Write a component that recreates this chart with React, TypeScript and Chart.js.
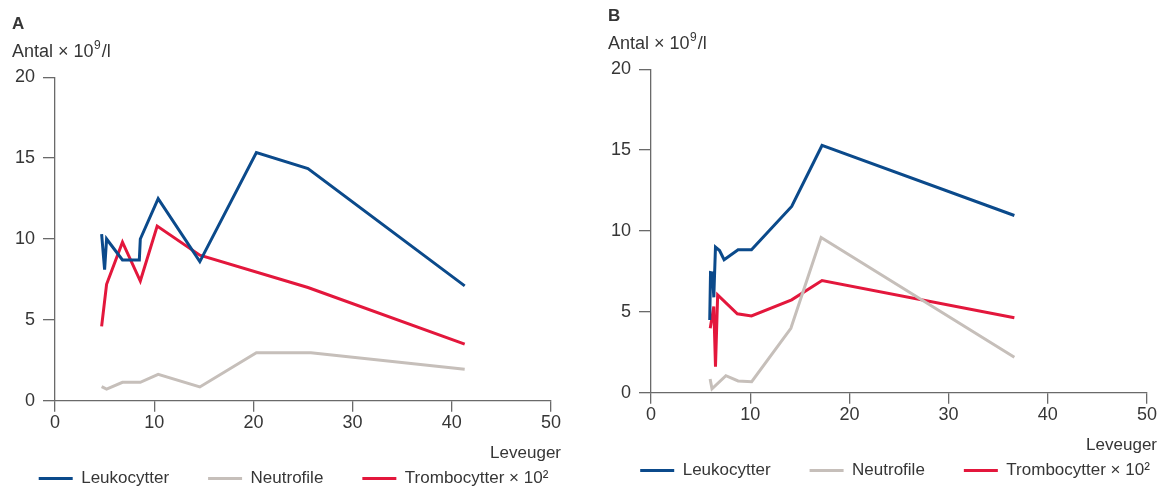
import React, { useEffect, useRef } from 'react';
import { Chart, registerables } from 'chart.js';

Chart.register(...registerables);

// ---- labels / ticks ----
const SERIES_LABELS = ['Leukocytter', 'Neutrofile', 'Trombocytter × 10²'];
const X_TICKS = [0, 10, 20, 30, 40, 50];
const Y_TICKS = [0, 5, 10, 15, 20];
const X_TITLE = 'Leveuger';
const Y_TITLE_BASE = 'Antal × 10';
const Y_TITLE_SUP = '9';
const Y_TITLE_TAIL = '/l';

// ---- Panel A ----
const aLeukoWeeks = [4.7, 5.0, 5.2, 6.8, 8.5, 8.6, 10.4, 14.6, 20.3, 25.5, 41.3];
const aLeukoValues = [10.3, 8.1, 10.0, 8.7, 8.7, 10.0, 12.5, 8.6, 15.35, 14.35, 7.1];
const aNeutroWeeks = [4.7, 5.2, 6.8, 8.6, 10.4, 14.6, 20.3, 25.8, 41.3];
const aNeutroValues = [0.87, 0.72, 1.14, 1.14, 1.63, 0.85, 2.97, 2.97, 1.94];
const aTromboWeeks = [4.7, 5.2, 6.8, 8.6, 10.3, 14.6, 25.5, 41.3];
const aTromboValues = [4.6, 7.2, 9.8, 7.4, 10.8, 9.0, 7.0, 3.5];

// ---- Panel B ----
const bLeukoWeeks = [5.92, 6.0, 6.2, 6.33, 6.5, 6.91, 7.37, 8.78, 10.13, 14.18, 17.24, 36.63];
const bLeukoValues = [4.5, 7.43, 7.4, 5.9, 9.0, 8.79, 8.22, 8.84, 8.84, 11.52, 15.29, 10.96];
const bNeutroWeeks = [5.96, 6.15, 7.55, 8.78, 10.15, 14.1, 17.15, 36.63];
const bNeutroValues = [0.85, 0.24, 1.05, 0.73, 0.68, 3.98, 9.6, 2.19];
const bTromboWeeks = [5.97, 6.33, 6.5, 6.72, 8.7, 10.13, 14.18, 17.24, 36.63];
const bTromboValues = [3.99, 5.33, 1.61, 6.05, 4.88, 4.75, 5.74, 6.94, 4.64];

const BLUE = '#0b4a8b';
const GREY = '#c6bfba';
const RED = '#e3173c';
const AXIS = '#6a6a6a';
const TEXT = '#363636';
const FONT = "'Liberation Sans', Arial, sans-serif";

const CANVAS_H = 497;
const PLOT_TOP = 77.3;
const PLOT_BOTTOM = 400.7;

const zip = (xs: number[], ys: number[]) => xs.map((x, i) => ({ x, y: ys[i] }));

const panelText = {
  id: 'panelText',
  afterDraw(chart: any, _args: any, opts: any) {
    const { ctx } = chart;
    const ox = opts.offset;
    ctx.save();
    ctx.fillStyle = TEXT;
    ctx.textBaseline = 'alphabetic';
    ctx.textAlign = 'left';
    ctx.font = `bold 17px ${FONT}`;
    ctx.fillText(opts.letter, ox + 12, 28.5);
    // y axis title with a real superscript
    ctx.font = `18px ${FONT}`;
    let x = ox + 12;
    ctx.fillText(Y_TITLE_BASE, x, 56.5);
    x += ctx.measureText(Y_TITLE_BASE).width + 0.5;
    ctx.font = `12px ${FONT}`;
    ctx.fillText(Y_TITLE_SUP, x, 49);
    x += ctx.measureText(Y_TITLE_SUP).width + 1;
    ctx.font = `18px ${FONT}`;
    ctx.fillText(Y_TITLE_TAIL, x, 56.5);
    // x axis title
    ctx.font = `17px ${FONT}`;
    ctx.textAlign = 'right';
    ctx.fillText(X_TITLE, chart.chartArea.right + 10, 458);
    ctx.restore();
  },
};

function makeConfig(
  letter: string,
  offset: number,
  rightGap: number,
  legendPad: number,
  series: { x: number[]; y: number[] }[]
): any {
  const colors = [BLUE, GREY, RED];
  const xHeight = CANVAS_H - (27 + legendPad) - PLOT_BOTTOM;
  return {
    type: 'line',
    data: {
      datasets: series.map((s, i) => ({
        label: SERIES_LABELS[i],
        data: zip(s.x, s.y),
        borderColor: colors[i],
        backgroundColor: colors[i],
        borderWidth: 3,
        pointRadius: 0,
        pointHoverRadius: 0,
        tension: 0,
        fill: false,
        borderJoinStyle: 'miter',
        yAxisID: 'y',
      })),
    },
    options: {
      responsive: false,
      animation: false,
      events: [],
      layout: { padding: { left: 0, right: 0, top: PLOT_TOP, bottom: 0 } },
      scales: {
        x: {
          type: 'linear',
          min: 0,
          max: 50,
          afterBuildTicks: (s: any) => {
            s.ticks = X_TICKS.map((v) => ({ value: v }));
          },
          afterFit: (s: any) => {
            s.height = xHeight;
          },
          ticks: { color: TEXT, font: { family: FONT, size: 18 }, padding: 1, maxRotation: 0, autoSkip: false },
          grid: { drawOnChartArea: false, drawTicks: true, tickLength: 11, color: AXIS, lineWidth: 1.3 },
          border: { display: true, color: AXIS, width: 1.3 },
        },
        y: {
          type: 'linear',
          position: 'left',
          min: 0,
          max: 20,
          afterBuildTicks: (s: any) => {
            s.ticks = Y_TICKS.map((v) => ({ value: v }));
          },
          afterFit: (s: any) => {
            s.width = 55 + offset;
          },
          ticks: { color: TEXT, font: { family: FONT, size: 18 }, padding: 8 },
          grid: { drawOnChartArea: false, drawTicks: true, tickLength: 12, color: AXIS, lineWidth: 1.3 },
          border: { display: true, color: AXIS, width: 1.3 },
        },
        gap: {
          type: 'linear',
          position: 'right',
          display: true,
          ticks: { display: false },
          grid: { display: false },
          border: { display: false },
          afterFit: (s: any) => {
            s.width = rightGap;
          },
        },
      },
      plugins: {
        legend: {
          display: true,
          position: 'bottom',
          labels: {
            color: TEXT,
            font: { family: FONT, size: 17 },
            boxWidth: 34,
            boxHeight: 3,
            padding: legendPad,
            generateLabels: (chart: any) =>
              Chart.defaults.plugins.legend.labels
                .generateLabels(chart)
                .map((l: any) => ({ ...l, lineWidth: 0, fillStyle: l.strokeStyle })),
          },
        },
        tooltip: { enabled: false },
        title: { display: false },
        panelText: { letter, offset },
      },
    },
    plugins: [panelText],
  };
}

function Panel({ letter, left, top, width, offset, rightGap, legendPad, series }: any) {
  const ref = useRef<HTMLCanvasElement | null>(null);
  useEffect(() => {
    if (!ref.current) return;
    const chart = new Chart(ref.current, makeConfig(letter, offset, rightGap, legendPad, series));
    return () => chart.destroy();
  }, []);
  return (
    <canvas
      ref={ref}
      width={width}
      height={CANVAS_H}
      style={{ position: 'absolute', left, top, width, height: CANVAS_H }}
    />
  );
}

export default function App() {
  const seriesA = [
    { x: aLeukoWeeks, y: aLeukoValues },
    { x: aNeutroWeeks, y: aNeutroValues },
    { x: aTromboWeeks, y: aTromboValues },
  ];
  const seriesB = [
    { x: bLeukoWeeks, y: bLeukoValues },
    { x: bNeutroWeeks, y: bNeutroValues },
    { x: bTromboWeeks, y: bTromboValues },
  ];
  return (
    <div
      style={{
        position: 'fixed',
        left: 0,
        top: 0,
        width: 1159,
        height: 488,
        overflow: 'hidden',
        background: '#ffffff',
      }}
    >
      <Panel letter="A" left={-20} top={0} width={627} offset={20} rightGap={56} legendPad={39} series={seriesA} />
      <Panel letter="B" left={576} top={-8} width={638} offset={20} rightGap={67} legendPad={39} series={seriesB} />
    </div>
  );
}
